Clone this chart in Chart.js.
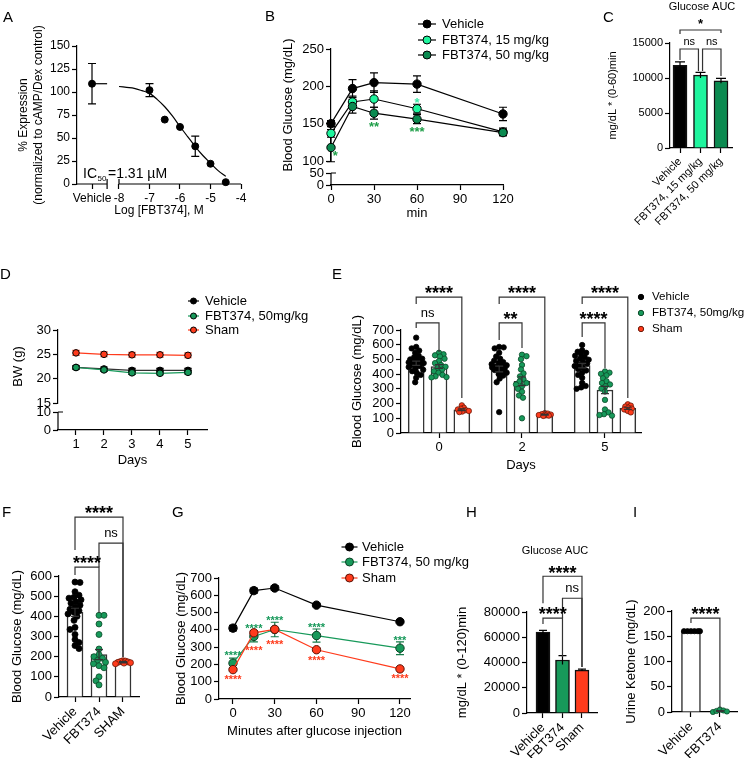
<!DOCTYPE html>
<html><head><meta charset="utf-8">
<script src="https://cdn.jsdelivr.net/npm/chart.js@4.4.1/dist/chart.umd.min.js"></script>
<style>
html,body{margin:0;padding:0;background:#fff;}
body{width:745px;height:758px;position:relative;overflow:hidden;}
canvas{position:absolute;}
</style></head><body>
<script>
// ================= DATA =================
// Panel A
const A_logConc = [-7, -6.5, -6, -5.5, -5, -4.5];
const A_expression = [102, 70, 62, 41, 22, 2];
const A_expressionErr = [7, 0, 0, 11, 0, 0];
const A_vehicle = [109];
const A_vehicleErr = [22];
const A_fitLogConc = [-8, -7.75, -7.5, -7.25, -7, -6.75, -6.5, -6.25, -6, -5.75, -5.5, -5.25, -5, -4.75, -4.5];
const A_fitExpression = [106, 105, 104, 101.5, 98.5, 92, 84, 74, 62.5, 51.5, 40.7, 31, 22.7, 14.5, 8.3];
const A_xTicks = [-8, -7, -6, -5, -4];
const A_yTicks = [0, 25, 50, 75, 100, 125, 150];
const A_ic50 = '=1.31 µM';

// Panel B
const B_minutes = [0, 15, 30, 60, 120];
const B_vehicle = [150, 197, 205, 203, 163];
const B_vehicleErr = [4, 12, 13, 11, 9];
const B_fbt15 = [137, 179, 183, 170, 139];
const B_fbt15Err = [5, 8, 11, 6, 5];
const B_fbt50 = [118, 173, 164, 156, 138];
const B_fbt50Err = [19, 9, 8, 6, 4];
const B_xTicks = [0, 30, 60, 90, 120];
const B_yTicksUpper = [100, 150, 200, 250];
const B_yTicksLower = [0, 50];

// Panel C
const C_groups = ['Vehicle', 'FBT374, 15 mg/kg', 'FBT374, 50 mg/kg'];
const C_auc = [11800, 10400, 9600];
const C_aucErr = [500, 400, 350];
const C_yTicks = [0, 5000, 10000, 15000];
const C_sig = ['*', 'ns', 'ns'];

// Panel D
const D_days = [1, 2, 3, 4, 5];
const D_vehicle = [22.3, 22.0, 21.7, 21.7, 21.7];
const D_vehicleErr = [0.4, 0.4, 0.4, 0.4, 0.4];
const D_fbt = [22.3, 21.8, 21.2, 21.1, 21.3];
const D_fbtErr = [0.3, 0.3, 0.3, 0.3, 0.3];
const D_sham = [25.3, 25.0, 24.9, 24.9, 24.8];
const D_shamErr = [0.5, 0.5, 0.5, 0.5, 0.5];
const D_yTicksUpper = [15, 20, 25, 30];
const D_yTicksLower = [0, 10];

// Panel E
const E_days = ['0', '2', '5'];
const E_vehicleMean = [474, 435, 458];
const E_vehicleSem = [14, 20, 15];
const E_fbtMean = [452, 352, 292];
const E_fbtSem = [13, 30, 25];
const E_shamMean = [158, 124, 168];
const E_shamSem = [6, 3, 7];
const E_vehicleDots = [
  [648, 585, 575, 560, 545, 525, 515, 505, 500, 495, 490, 485, 480, 475, 470, 462, 455, 448, 440, 430, 420, 410, 395, 375, 345],
  [585, 582, 575, 545, 520, 505, 492, 482, 475, 468, 460, 455, 450, 445, 440, 435, 428, 420, 410, 400, 390, 370, 345, 142],
  [598, 562, 552, 545, 535, 525, 515, 505, 498, 490, 482, 472, 465, 455, 445, 435, 425, 410, 395, 375, 340, 320, 310, 300]
];
const E_fbtDots = [
  [545, 535, 528, 520, 505, 490, 475, 462, 450, 440, 430, 420, 410, 395, 385, 380, 378],
  [532, 522, 502, 462, 432, 405, 385, 365, 350, 340, 330, 318, 300, 280, 255, 240, 100],
  [418, 410, 402, 392, 372, 352, 340, 330, 318, 302, 282, 225, 160, 140, 128, 122, 118]
];
const E_shamDots = [
  [188, 172, 165, 160, 155, 150, 146, 142],
  [135, 132, 128, 125, 122, 120, 118, 116],
  [195, 186, 180, 172, 166, 160, 150, 140]
];
const E_sigVsSham = ['****', '****', '****'];
const E_sigVsFbt = ['ns', '**', '****'];
const E_yTicks = [0, 100, 200, 300, 400, 500, 600, 700];

// Panel F
const F_groups = ['Vehicle', 'FBT374', 'SHAM'];
const F_mean = [420, 210, 172];
const F_sem = [20, 25, 3];
const F_vehicleDots = [570, 568, 522, 505, 495, 490, 482, 472, 465, 455, 445, 435, 428, 420, 412, 400, 380, 345, 335, 310, 285, 270, 255, 240];
const F_fbtDots = [405, 405, 362, 310, 238, 210, 200, 192, 182, 172, 165, 155, 145, 100, 80, 60];
const F_shamDots = [180, 178, 176, 174, 172, 170, 168, 165];
const F_sig = ['****', 'ns', '****'];
const F_yTicks = [0, 100, 200, 300, 400, 500, 600];

// Panel G
const G_minutes = [0, 15, 30, 60, 120];
const G_vehicle = [410, 627, 642, 543, 447];
const G_vehicleErr = [16, 15, 12, 6, 6];
const G_fbt = [207, 362, 402, 367, 294];
const G_fbtErr = [29, 32, 42, 38, 37];
const G_sham = [170, 383, 403, 285, 174];
const G_shamErr = [8, 8, 10, 8, 6];
const G_sigFbt = ['****', '****', '****', '****', '***'];
const G_sigSham = ['****', '****', '****', '****', '****'];
const G_xTicks = [0, 30, 60, 90, 120];
const G_yTicks = [0, 100, 200, 300, 400, 500, 600, 700];

// Panel H
const H_groups = ['Vehicle', 'FBT374', 'Sham'];
const H_auc = [64000, 42000, 34000];
const H_aucErr = [1500, 3500, 800];
const H_sig = ['****', 'ns', '****'];
const H_yTicks = [0, 20000, 40000, 60000, 80000];

// Panel I
const I_groups = ['Vehicle', 'FBT374'];
const I_ketone = [160, 2];
const I_ketoneErr = [0, 1];
const I_vehicleDots = [160, 160, 160, 160, 160, 160];
const I_fbtDots = [0, 2, 5, 3, 1];
const I_sig = ['****'];
const I_yTicks = [0, 50, 100, 150, 200];

// ================= STYLE =================
const FONT = "'Liberation Sans', Arial, Helvetica, sans-serif";
const BLACK = '#000000', MINT = '#1ff59e', DKGREEN = '#0b8a50', GREEN = '#17995a', RED = '#ff3b1c';
Chart.defaults.font.family = FONT;
Chart.defaults.font.size = 13;
Chart.defaults.color = '#000';

function merge(a, b) {
  const out = Object.assign({}, a);
  for (const k in b) {
    const v = b[k];
    if (v && typeof v === 'object' && !Array.isArray(v) && out[k] && typeof out[k] === 'object' && !Array.isArray(out[k])) out[k] = merge(out[k], v);
    else out[k] = v;
  }
  return out;
}
function fixedTicks(vals) { return s => { s.ticks = vals.map(v => ({value: v})); }; }
function axis(o) {
  return merge({
    type: 'linear', offset: false,
    grid: {offset: false, drawOnChartArea: false, drawTicks: true, tickLength: 5, tickColor: '#000', tickWidth: 1.2},
    border: {display: true, color: '#000', width: 1.2},
    ticks: {color: '#000', font: {size: 13}, padding: 2, autoSkip: false, maxRotation: 0, minRotation: 0, callback: v => String(v)}
  }, o || {});
}
function txt(ctx, s, x, y, o) {
  o = o || {};
  ctx.save();
  ctx.font = (o.weight || 'normal') + ' ' + (o.size || 13) + 'px ' + FONT;
  ctx.fillStyle = o.color || '#000';
  ctx.textAlign = o.align || 'left';
  ctx.textBaseline = o.baseline || 'alphabetic';
  ctx.fillText(s, x, y);
  ctx.restore();
}
function drawErr(chart, layer) {
  const ctx = chart.ctx;
  chart.data.datasets.forEach((ds, i) => {
    if (!ds.errs || (ds.errLayer || 'before') !== layer) return;
    const meta = chart.getDatasetMeta(i);
    const ys = chart.scales[meta.yAxisID];
    ctx.save();
    ctx.strokeStyle = ds.errColor || '#000';
    ctx.lineWidth = ds.errWidth || 1.2;
    meta.data.forEach((el, j) => {
      const e = ds.errs[j];
      if (!e) return;
      const raw = ds.data[j];
      const v = (typeof raw === 'object') ? raw.y : raw;
      const x = el.x, yt = ys.getPixelForValue(v + e), yb = ys.getPixelForValue(v - e);
      const c = ds.capHalf == null ? 4 : ds.capHalf;
      ctx.beginPath();
      ctx.moveTo(x, yt); ctx.lineTo(x, yb);
      ctx.moveTo(x - c, yt); ctx.lineTo(x + c, yt);
      if (!ds.errUpOnly) { ctx.moveTo(x - c, yb); ctx.lineTo(x + c, yb); }
      ctx.stroke();
    });
    ctx.restore();
  });
}
function drawBracket(c, ctx, b) {
  const xs = c.scales.x, ys = c.scales.y;
  const X1 = xs.getPixelForValue(b.x1), X2 = xs.getPixelForValue(b.x2);
  const Y = ys.getPixelForValue(b.y);
  const L1 = ys.getPixelForValue(b.l1), L2 = ys.getPixelForValue(b.l2);
  ctx.save();
  ctx.strokeStyle = '#333'; ctx.lineWidth = 1.2;
  ctx.beginPath(); ctx.moveTo(X1, L1); ctx.lineTo(X1, Y); ctx.lineTo(X2, Y); ctx.lineTo(X2, L2); ctx.stroke();
  const stars = /^\*+$/.test(b.text);
  const size = b.size || (stars ? 18 : 13);
  const cy = Y - (b.dy || (stars ? 8 : 9.5));
  const base = cy + (stars ? 0.57 : 0.26) * size;
  txt(ctx, b.text, (X1 + X2) / 2, base, {size: size, weight: stars ? 'bold' : 'normal', align: 'center'});
  ctx.restore();
}
function drawLegend(ctx, lg, L, T) {
  lg.items.forEach((it, i) => {
    const y = lg.ys[i] - T, mx = lg.mx - L;
    ctx.save();
    if (lg.half) {
      ctx.strokeStyle = it.line || it.fill; ctx.lineWidth = 1.2;
      ctx.beginPath(); ctx.moveTo(mx - lg.half, y); ctx.lineTo(mx + lg.half, y); ctx.stroke();
    }
    ctx.beginPath(); ctx.arc(mx, y, lg.r, 0, Math.PI * 2);
    ctx.fillStyle = it.fill; ctx.fill();
    ctx.strokeStyle = it.border || '#000'; ctx.lineWidth = 1; ctx.stroke();
    ctx.restore();
    txt(ctx, it.label, lg.tx - L, y, {size: lg.size || 13, baseline: 'middle'});
  });
}
function deco(p) {
  const L = p.rect[0], T = p.rect[1];
  return {
    id: 'deco',
    beforeDatasetsDraw(c) { drawErr(c, 'before'); },
    afterDatasetsDraw(c) { drawErr(c, 'after'); },
    afterDraw(c) {
      const ctx = c.ctx;
      if (p.extra) { ctx.save(); p.extra(c, ctx, L, T); ctx.restore(); }
      (p.brackets || []).forEach(b => drawBracket(c, ctx, b));
      (p.notes || []).forEach(n => {
        const xs = c.scales.x, ys = c.scales[n.yAxis || 'y'];
        const size = n.size || 11;
        txt(ctx, n.text, xs.getPixelForValue(n.x), ys.getPixelForValue(n.y) + 0.57 * size,
          {size: size, weight: 'bold', align: 'center', color: n.color});
      });
      if (p.legend) drawLegend(ctx, p.legend, L, T);
      (p.texts || []).forEach(t => txt(ctx, t.text, t.x - L, t.y - T, t));
    }
  };
}
function panel(p) {
  const [L, T, W, H] = p.rect;
  const [x0, y0, x1, y1] = p.area;
  const cv = document.createElement('canvas');
  cv.width = W; cv.height = H;
  cv.style.left = L + 'px'; cv.style.top = T + 'px';
  cv.style.width = W + 'px'; cv.style.height = H + 'px';
  document.body.appendChild(cv);
  const yW = x0 - L, xH = T + H - y1;
  for (const id in p.scales) {
    const horiz = id.charAt(0) === 'x';
    p.scales[id].afterFit = sc => {
      if (horiz) sc.height = xH; else sc.width = yW;
      sc.paddingLeft = 0; sc.paddingRight = 0; sc.paddingTop = 0; sc.paddingBottom = 0;
    };
  }
  return new Chart(cv.getContext('2d'), {
    type: 'scatter',
    data: {datasets: p.datasets},
    options: {
      responsive: false, animation: false, devicePixelRatio: 1, events: [],
      layout: {padding: {left: 0, top: y0 - T, right: L + W - x1, bottom: 0}},
      scales: p.scales,
      plugins: {legend: {display: false}, tooltip: {enabled: false}}
    },
    plugins: [deco(p)]
  });
}
function pts(xs, ys) { return xs.map((x, i) => ({x: x, y: ys[i]})); }
function lineDs(xs, ys, errs, fill, lineColor, r, extra) {
  return Object.assign({
    type: 'scatter', data: pts(xs, ys), showLine: true, borderColor: lineColor, borderWidth: 1.2,
    pointRadius: r, pointBackgroundColor: fill, pointBorderColor: '#000', pointBorderWidth: 1,
    errs: errs, errLayer: 'before', errColor: lineColor, clip: false
  }, extra || {});
}
// deterministic beeswarm spreading (pixel space), limited to +/- maxHalf px around the column centre
function swarmX(values, center, xppu, yppu, minDist, maxHalf) {
  const idx = values.map((_, i) => i).sort((a, b) => values[b] - values[a]);
  const placed = [], out = new Array(values.length);
  idx.forEach((i, n) => {
    const py = values[i] * yppu;
    const sgn = n % 2 ? 1 : -1;
    let chosen = null, bestD = 0, bestScore = -1;
    for (let k = 0; k < 400; k++) {
      const d = k === 0 ? 0 : Math.ceil(k / 2) * 0.5 * (k % 2 ? sgn : -sgn);
      if (Math.abs(d) > maxHalf) break;
      let mind = Infinity;
      for (const q of placed) {
        const dx = q.x - d, dy = q.y - py;
        mind = Math.min(mind, Math.sqrt(dx * dx + dy * dy));
      }
      if (mind >= minDist) { chosen = d; break; }
      if (mind > bestScore) { bestScore = mind; bestD = d; }
    }
    if (chosen === null) chosen = bestD;
    placed.push({x: chosen, y: py});
    out[i] = center + chosen / xppu;
  });
  return out;
}
function dotDs(values, center, xppu, yppu, minDist, maxHalf, fill, border, r) {
  const xs = swarmX(values, center, xppu, yppu, minDist, maxHalf);
  return {type: 'scatter', data: pts(xs, values), pointRadius: r, pointBackgroundColor: fill,
    pointBorderColor: border, pointBorderWidth: 0.8, order: 1, clip: false};
}
function barDs(xs, ys, errs, fill, border, thick, extra) {
  return Object.assign({type: 'bar', data: pts(xs, ys), backgroundColor: fill, borderColor: border,
    borderWidth: 1.5, barThickness: thick, grouped: false, order: 5, errs: errs, errLayer: 'after',
    errColor: '#333', capHalf: 4, clip: false}, extra || {});
}
function letter(t, x, y) { return {text: t, x: x, y: y, size: 15}; }

// ================= PANEL A =================
const A_VEH = -8.885, A_BRK = -8.39;
panel({
  rect: [0, 0, 250, 222], area: [77, 46, 241, 184],
  scales: {
    x: axis({min: -9.377, max: -4, border: {display: false},
      afterBuildTicks: fixedTicks([A_VEH].concat(A_xTicks)),
      ticks: {font: {size: 12}, callback: v => Math.abs(v - A_VEH) < 0.01 ? 'Vehicle' : String(v)},
      title: {display: true, text: 'Log [FBT374], M', font: {size: 12}, padding: {top: 0, bottom: 4.5}}}),
    y: axis({min: 0, max: 150, afterBuildTicks: fixedTicks(A_yTicks), ticks: {font: {size: 12}},
      title: {display: true, text: ['% Expression', '(normalized to cAMP/Dex control)'], font: {size: 12}, padding: {top: 16.8, bottom: 0}}})
  },
  datasets: [
    {type: 'scatter', data: pts(A_logConc, A_expression), pointRadius: 3.5, pointBackgroundColor: BLACK,
      pointBorderColor: BLACK, errs: A_expressionErr, errLayer: 'before', capHalf: 4, clip: false},
    {type: 'scatter', data: pts([A_VEH], A_vehicle), pointRadius: 3.5, pointBackgroundColor: BLACK,
      pointBorderColor: BLACK, errs: A_vehicleErr, errLayer: 'before', capHalf: 4, clip: false},
    {type: 'scatter', data: pts([A_VEH, A_BRK], [A_vehicle[0], A_vehicle[0]]), showLine: true, pointRadius: 0,
      borderColor: BLACK, borderWidth: 1.2},
    {type: 'scatter', data: pts(A_fitLogConc, A_fitExpression), showLine: true, pointRadius: 0,
      borderColor: BLACK, borderWidth: 1.2, cubicInterpolationMode: 'monotone', clip: false}
  ],
  extra: (c, ctx) => {
    const xs = c.scales.x, y = c.chartArea.bottom;
    const b = xs.getPixelForValue(A_BRK), d = xs.getPixelForValue(-8);
    ctx.strokeStyle = '#000'; ctx.lineWidth = 1.2;
    ctx.beginPath();
    ctx.moveTo(xs.left, y); ctx.lineTo(b, y);
    ctx.moveTo(d, y); ctx.lineTo(xs.right, y);
    ctx.moveTo(b, y - 5); ctx.lineTo(b, y + 5);
    ctx.moveTo(d, y - 5); ctx.lineTo(d, y);
    ctx.stroke();
    txt(ctx, 'IC', 83, 178, {size: 14});
    txt(ctx, '50', 97.5, 181, {size: 8});
    txt(ctx, A_ic50, 108, 178, {size: 14});
  },
  texts: [letter('A', 3, 22)]
});

// ================= PANEL B =================
panel({
  rect: [265, 0, 290, 225], area: [331, 49, 503, 185],
  scales: {
    x: axis({min: 0, max: 120, afterBuildTicks: fixedTicks(B_xTicks),
      title: {display: true, text: 'min', font: {size: 13}, padding: {top: 0, bottom: 4.2}}}),
    y: axis({min: 100, max: 250, stack: 'b', stackWeight: 112, weight: 2, afterBuildTicks: fixedTicks(B_yTicksUpper),
      title: {display: true, text: 'Blood Glucose (mg/dL)', font: {size: 13}, padding: {top: 15.2, bottom: 0}}}),
    y2: axis({min: 0, max: 100, stack: 'b', stackWeight: 24, weight: 1, position: 'left', border: {display: false},
      afterBuildTicks: fixedTicks(B_yTicksLower)})
  },
  datasets: [
    lineDs(B_minutes, B_fbt50, B_fbt50Err, DKGREEN, BLACK, 4.2),
    lineDs(B_minutes, B_fbt15, B_fbt15Err, MINT, BLACK, 4.2),
    lineDs(B_minutes, B_vehicle, B_vehicleErr, BLACK, BLACK, 4.2)
  ],
  notes: [
    {x: 60, y: 182, text: '*', color: '#3ee8a8', size: 13},
    {x: 30, y: 150, text: '**', color: '#1e9e48', size: 13},
    {x: 60, y: 144, text: '***', color: '#1e9e48', size: 13},
    {x: 3, y: 111, text: '*', color: '#1e9e48', size: 13}
  ],
  extra: (c, ctx) => {
    const s2 = c.scales.y2, x = c.chartArea.left;
    const p0 = s2.getPixelForValue(0), p50 = s2.getPixelForValue(50);
    ctx.strokeStyle = '#000'; ctx.lineWidth = 1.2;
    ctx.beginPath(); ctx.moveTo(x, p0); ctx.lineTo(x, p50); ctx.moveTo(x, p50); ctx.lineTo(x + 5, p50); ctx.stroke();
  },
  legend: {mx: 427, half: 9, tx: 442, ys: [24, 40, 55], r: 4, items: [
    {label: 'Vehicle', fill: BLACK, line: BLACK},
    {label: 'FBT374, 15 mg/kg', fill: MINT, line: BLACK},
    {label: 'FBT374, 50 mg/kg', fill: DKGREEN, line: BLACK}]},
  texts: [letter('B', 265, 21)]
});

// ================= PANEL C =================
panel({
  rect: [595, 0, 150, 235], area: [670, 43, 732, 148],
  scales: {
    x: axis({min: -0.488, max: 2.537, afterBuildTicks: fixedTicks([0, 1, 2]),
      ticks: {font: {size: 11}, maxRotation: 45, minRotation: 45, callback: v => C_groups[Math.round(v)]}}),
    y: axis({min: 0, max: 15000, afterBuildTicks: fixedTicks(C_yTicks), ticks: {font: {size: 11}},
      title: {display: true, text: 'mg/dL * (0-60)min', font: {size: 11}, padding: {top: 11.4, bottom: 0}}})
  },
  datasets: [
    barDs([0], [C_auc[0]], [C_aucErr[0]], BLACK, '#111', 14, {capHalf: 5, errColor: '#000', errUpOnly: true}),
    barDs([1], [C_auc[1]], [C_aucErr[1]], MINT, '#111', 14, {capHalf: 5, errColor: '#000', errUpOnly: true}),
    barDs([2], [C_auc[2]], [C_aucErr[2]], DKGREEN, '#111', 14, {capHalf: 5, errColor: '#000', errUpOnly: true})
  ],
  brackets: [
    {x1: 0, x2: 2, y: 16860, l1: 16290, l2: 16430, text: C_sig[0], size: 13, dy: 9},
    {x1: 0, x2: 0.9, y: 14140, l1: 12570, l2: 11000, text: C_sig[1], size: 11, dy: 7},
    {x1: 1.1, x2: 2, y: 14140, l1: 11000, l2: 10290, text: C_sig[2], size: 11, dy: 7}
  ],
  texts: [letter('C', 603, 22), {text: 'Glucose AUC', x: 702, y: 7, size: 11, align: 'center', baseline: 'middle'}]
});

// ================= PANEL D =================
panel({
  rect: [0, 225, 320, 245], area: [58, 330, 207, 430],
  scales: {
    x: axis({min: 0.357, max: 5.68, afterBuildTicks: fixedTicks(D_days),
      title: {display: true, text: 'Days', font: {size: 13}, padding: {top: 0, bottom: 2.2}}}),
    y: axis({min: 15, max: 30, stack: 'd', stackWeight: 73, weight: 2, afterBuildTicks: fixedTicks(D_yTicksUpper),
      title: {display: true, text: 'BW (g)', font: {size: 13}, padding: {top: 10.2, bottom: 0}}}),
    y2: axis({min: 0, max: 15, stack: 'd', stackWeight: 27, weight: 1, position: 'left', border: {display: false},
      afterBuildTicks: fixedTicks(D_yTicksLower)})
  },
  datasets: [
    lineDs(D_days, D_fbt, D_fbtErr, GREEN, GREEN, 3.3, {errColor: '#1f6f45'}),
    lineDs(D_days, D_vehicle, D_vehicleErr, BLACK, '#333', 3.3, {errColor: '#555'}),
    lineDs(D_days, D_sham, D_shamErr, RED, RED, 3.3, {errColor: '#ff8a78'})
  ],
  extra: (c, ctx) => {
    const s2 = c.scales.y2, x = c.chartArea.left;
    const p0 = s2.getPixelForValue(0), p10 = s2.getPixelForValue(10);
    ctx.strokeStyle = '#000'; ctx.lineWidth = 1.2;
    ctx.beginPath(); ctx.moveTo(x, p0); ctx.lineTo(x, p10); ctx.moveTo(x, p10); ctx.lineTo(x + 5, p10); ctx.stroke();
  },
  legend: {mx: 193.5, half: 5.5, tx: 205, ys: [301, 316, 330], r: 3, items: [
    {label: 'Vehicle', fill: BLACK, line: BLACK},
    {label: 'FBT374, 50mg/kg', fill: GREEN, line: GREEN},
    {label: 'Sham', fill: RED, line: RED}]},
  texts: [letter('D', 0, 279)]
});

// ================= PANEL E =================
(function () {
  const area = [401, 330, 641, 433], xr = [-0.458, 2.434], yr = [0, 700];
  const xppu = (area[2] - area[0]) / (xr[1] - xr[0]), yppu = (area[3] - area[1]) / (yr[1] - yr[0]);
  const off = 0.275, g = [0, 1, 2];
  const ds = [
    barDs(g.map(v => v - off), E_vehicleMean, E_vehicleSem, '#fff', '#333', 16),
    barDs(g, E_fbtMean, E_fbtSem, '#fff', '#333', 16),
    barDs(g.map(v => v + off), E_shamMean, E_shamSem, '#fff', '#333', 16)
  ];
  g.forEach(i => {
    ds.push(dotDs(E_vehicleDots[i], i - off, xppu, yppu, 4.5, 7.5, BLACK, BLACK, 2.7));
    ds.push(dotDs(E_fbtDots[i], i, xppu, yppu, 4.5, 7.5, GREEN, '#0d4a2a', 2.7));
    ds.push(dotDs(E_shamDots[i], i + off, xppu, yppu, 3, 7.5, RED, '#6a1a0a', 2.7));
  });
  const vLeg = [714, 632, 653], fLeg = [551, 578, 442], sLeg = [238, 143, 238];
  const br = [];
  g.forEach(i => {
    br.push({x1: i - off, x2: i + off, y: 924, l1: 877, l2: sLeg[i], text: E_sigVsSham[i]});
    br.push({x1: i - off, x2: i, y: 748, l1: vLeg[i], l2: fLeg[i], text: E_sigVsFbt[i]});
  });
  panel({
    rect: [262, 225, 483, 250], area: area,
    scales: {
      x: axis({min: xr[0], max: xr[1], afterBuildTicks: fixedTicks(g), ticks: {callback: v => E_days[Math.round(v)]},
        title: {display: true, text: 'Days', font: {size: 13}, padding: {top: 0, bottom: 2.2}}}),
      y: axis({min: 0, max: 700, afterBuildTicks: fixedTicks(E_yTicks),
        title: {display: true, text: 'Blood Glucose (mg/dL)', font: {size: 13}, padding: {top: 87.2, bottom: 0}}})
    },
    datasets: ds,
    brackets: br,
    legend: {mx: 641, tx: 652, ys: [297, 313, 329], r: 2.7, size: 11.6, items: [
      {label: 'Vehicle', fill: BLACK, border: BLACK},
      {label: 'FBT374, 50mg/kg', fill: GREEN, border: '#0d4a2a'},
      {label: 'Sham', fill: RED, border: '#6a1a0a'}]},
    texts: [letter('E', 332, 279)]
  });
})();

// ================= PANEL F =================
(function () {
  const area = [59, 576, 139, 697], xr = [-0.667, 2.667], yr = [0, 600];
  const xppu = (area[2] - area[0]) / (xr[1] - xr[0]), yppu = (area[3] - area[1]) / (yr[1] - yr[0]);
  panel({
    rect: [0, 495, 165, 263], area: area,
    scales: {
      x: axis({min: xr[0], max: xr[1], afterBuildTicks: fixedTicks([0, 1, 2]),
        ticks: {maxRotation: 45, minRotation: 45, callback: v => F_groups[Math.round(v)]}}),
      y: axis({min: 0, max: 600, afterBuildTicks: fixedTicks(F_yTicks),
        title: {display: true, text: 'Blood Glucose (mg/dL)', font: {size: 13}, padding: {top: 9.2, bottom: 0}}})
    },
    datasets: [
      barDs([0, 1, 2], F_mean, F_sem, '#fff', '#333', 16),
      dotDs(F_vehicleDots, 0, xppu, yppu, 5, 8, BLACK, BLACK, 3),
      dotDs(F_fbtDots, 1, xppu, yppu, 5, 8, GREEN, '#0d4a2a', 3),
      dotDs(F_shamDots, 2, xppu, yppu, 2.5, 8, RED, '#6a1a0a', 3)
    ],
    brackets: [
      {x1: 0, x2: 2, y: 892, l1: 729, l2: 198, text: F_sig[0]},
      {x1: 1, x2: 2, y: 763, l1: 644, l2: 198, text: F_sig[1]},
      {x1: 0, x2: 1, y: 644, l1: 605, l2: 416, text: F_sig[2]}
    ],
    texts: [letter('F', 2, 517)]
  });
})();

// ================= PANEL G =================
panel({
  rect: [165, 495, 310, 263], area: [219, 578, 410, 699],
  scales: {
    x: axis({min: -10.06, max: 127.2, afterBuildTicks: fixedTicks(G_xTicks),
      title: {display: true, text: 'Minutes after glucose injection', font: {size: 13}, padding: {top: 0, bottom: 19.2}}}),
    y: axis({min: 0, max: 700, afterBuildTicks: fixedTicks(G_yTicks),
      title: {display: true, text: 'Blood Glucose (mg/dL)', font: {size: 13}, padding: {top: 8.2, bottom: 0}}})
  },
  datasets: [
    lineDs(G_minutes, G_sham, G_shamErr, RED, RED, 4.2, {pointBorderColor: '#5a1206', errColor: '#c02a10'}),
    lineDs(G_minutes, G_fbt, G_fbtErr, GREEN, GREEN, 4.2, {pointBorderColor: '#0d3f24', errColor: '#157a48'}),
    lineDs(G_minutes, G_vehicle, G_vehicleErr, BLACK, BLACK, 4.2)
  ],
  notes: [
    {x: 0, y: 266, text: G_sigFbt[0], color: GREEN}, {x: 15, y: 422, text: G_sigFbt[1], color: GREEN},
    {x: 30, y: 468, text: G_sigFbt[2], color: GREEN}, {x: 60, y: 428, text: G_sigFbt[3], color: GREEN},
    {x: 120, y: 353, text: G_sigFbt[4], color: GREEN},
    {x: 0, y: 127, text: G_sigSham[0], color: RED}, {x: 15, y: 295, text: G_sigSham[1], color: RED},
    {x: 30, y: 329, text: G_sigSham[2], color: RED}, {x: 60, y: 237, text: G_sigSham[3], color: RED},
    {x: 120, y: 133, text: G_sigSham[4], color: RED}
  ],
  legend: {mx: 349.5, half: 8, tx: 362, ys: [547, 562, 578], r: 4, items: [
    {label: 'Vehicle', fill: BLACK, line: BLACK},
    {label: 'FBT374, 50 mg/kg', fill: GREEN, line: GREEN, border: '#0d3f24'},
    {label: 'Sham', fill: RED, line: RED, border: '#5a1206'}]},
  texts: [letter('G', 172, 517)]
});

// ================= PANEL H =================
panel({
  rect: [450, 495, 165, 263], area: [527, 612, 597, 713],
  scales: {
    x: axis({min: -0.82, max: 2.77, afterBuildTicks: fixedTicks([0, 1, 2]),
      ticks: {maxRotation: 45, minRotation: 45, callback: v => H_groups[Math.round(v)]}}),
    y: axis({min: 0, max: 80000, afterBuildTicks: fixedTicks(H_yTicks),
      title: {display: true, text: 'mg/dL * (0-120)min', font: {size: 13}, padding: {top: 4.2, bottom: 0}}})
  },
  datasets: [
    barDs([0], [H_auc[0]], [H_aucErr[0]], BLACK, '#111', 14, {errColor: '#000', errUpOnly: true}),
    barDs([1], [H_auc[1]], [H_aucErr[1]], GREEN, '#111', 14, {errColor: '#000', errUpOnly: true}),
    barDs([2], [H_auc[2]], [H_aucErr[2]], RED, '#111', 14, {errColor: '#000', errUpOnly: true})
  ],
  brackets: [
    {x1: 0, x2: 2, y: 108300, l1: 87000, l2: 36400, text: H_sig[0]},
    {x1: 1, x2: 2, y: 90900, l1: 75100, l2: 36400, text: H_sig[1]},
    {x1: 0, x2: 1, y: 75100, l1: 70400, l2: 44300, text: H_sig[2]}
  ],
  texts: [letter('H', 466, 517), {text: 'Glucose AUC', x: 555, y: 551, size: 11, align: 'center', baseline: 'middle'}]
});

// ================= PANEL I =================
(function () {
  const area = [672, 611, 737, 712], xr = [-0.655, 1.59], yr = [0, 200];
  const xppu = (area[2] - area[0]) / (xr[1] - xr[0]), yppu = (area[3] - area[1]) / (yr[1] - yr[0]);
  panel({
    rect: [615, 495, 130, 263], area: area,
    scales: {
      x: axis({min: xr[0], max: xr[1], afterBuildTicks: fixedTicks([0, 1]),
        ticks: {maxRotation: 45, minRotation: 45, callback: v => I_groups[Math.round(v)]}}),
      y: axis({min: 0, max: 200, afterBuildTicks: fixedTicks(I_yTicks),
        title: {display: true, text: 'Urine Ketone (mg/dL)', font: {size: 13}, padding: {top: 8.2, bottom: 0}}})
    },
    datasets: [
      barDs([0, 1], I_ketone, I_ketoneErr, '#fff', '#333', 19),
      dotDs(I_vehicleDots, 0, xppu, yppu, 3.2, 9, BLACK, BLACK, 2.6),
      dotDs(I_fbtDots, 1, xppu, yppu, 3.6, 9, GREEN, '#0d4a2a', 2.6)
    ],
    brackets: [{x1: 0, x2: 1, y: 186, l1: 176, l2: 8, text: I_sig[0]}],
    texts: [letter('I', 633, 517)]
  });
})();
</script>
</body></html>
